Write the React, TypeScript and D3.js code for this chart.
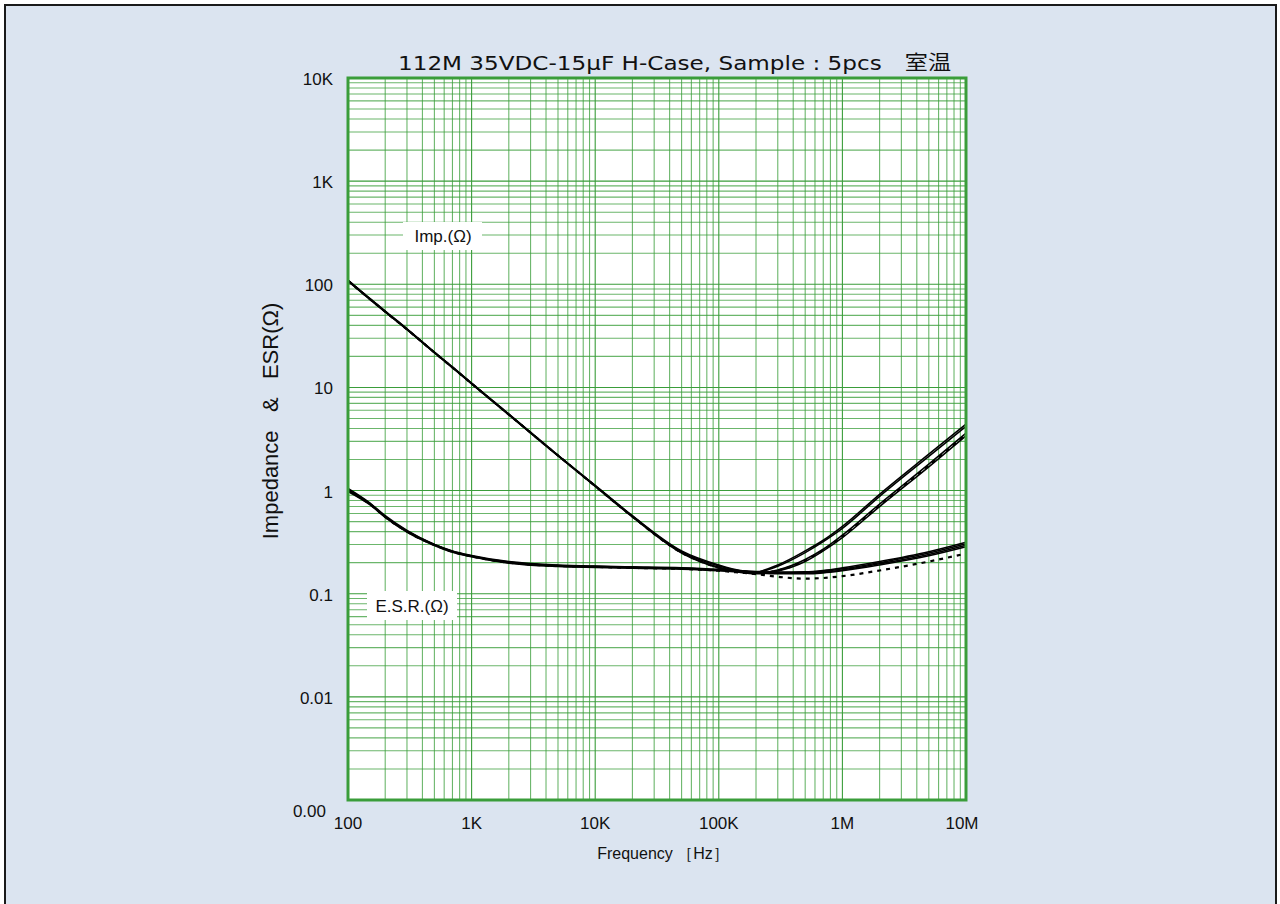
import React from "react";
import * as d3 from "d3";

// Measurement frequencies (Hz)
const freqs = [100, 150, 200, 300, 500, 700, 1e3, 2e3, 5e3, 1e4, 2e4, 5e4, 1e5, 1.5e5, 2e5, 3e5, 5e5, 7e5, 1e6, 2e6, 5e6, 1e7];

// Impedance (ohm) for each of the 5 samples
const imp1 = [110, 73, 55, 37, 22, 15.8, 11, 5.5, 2.2, 1.12, 0.57, 0.26, 0.19, 0.168, 0.163, 0.19, 0.26, 0.33, 0.45, 0.92, 2.25, 4.4];
const imp2 = [108, 72, 54, 36.5, 21.8, 15.6, 10.9, 5.45, 2.18, 1.11, 0.565, 0.255, 0.186, 0.166, 0.162, 0.185, 0.25, 0.32, 0.43, 0.88, 2.15, 4.2];
const imp3 = [109, 72.5, 54.5, 36.8, 21.9, 15.7, 10.95, 5.5, 2.2, 1.11, 0.56, 0.25, 0.18, 0.163, 0.158, 0.17, 0.215, 0.27, 0.37, 0.74, 1.8, 3.6];
const imp4 = [107, 71.5, 54, 36.3, 21.7, 15.5, 10.85, 5.42, 2.17, 1.1, 0.555, 0.248, 0.178, 0.161, 0.156, 0.166, 0.205, 0.26, 0.35, 0.7, 1.7, 3.4];
const imp5 = [108, 72, 54.2, 36.6, 21.8, 15.6, 10.9, 5.46, 2.19, 1.105, 0.558, 0.25, 0.179, 0.162, 0.157, 0.168, 0.21, 0.265, 0.36, 0.72, 1.75, 3.5];

// ESR (ohm) for each of the 5 samples
const esr1 = [1.05, 0.76, 0.57, 0.41, 0.3, 0.26, 0.235, 0.205, 0.19, 0.185, 0.182, 0.178, 0.172, 0.167, 0.164, 0.162, 0.163, 0.168, 0.178, 0.205, 0.255, 0.315];
const esr2 = [1.02, 0.75, 0.56, 0.405, 0.3, 0.258, 0.232, 0.203, 0.188, 0.184, 0.18, 0.176, 0.17, 0.165, 0.162, 0.16, 0.161, 0.165, 0.174, 0.2, 0.248, 0.305];
const esr3 = [1.0, 0.74, 0.555, 0.4, 0.296, 0.255, 0.23, 0.2, 0.186, 0.182, 0.179, 0.175, 0.169, 0.164, 0.161, 0.158, 0.158, 0.162, 0.17, 0.195, 0.24, 0.295];
const esr4 = [0.98, 0.73, 0.55, 0.395, 0.293, 0.252, 0.228, 0.198, 0.184, 0.18, 0.177, 0.173, 0.167, 0.162, 0.159, 0.156, 0.156, 0.159, 0.167, 0.19, 0.233, 0.285];
const esr5 = [1.01, 0.74, 0.555, 0.4, 0.296, 0.255, 0.23, 0.2, 0.186, 0.182, 0.178, 0.174, 0.167, 0.16, 0.155, 0.146, 0.14, 0.142, 0.148, 0.168, 0.205, 0.245];

const impSeries = [imp1, imp2, imp3, imp4, imp5];
const esrSeries = [esr1, esr2, esr3, esr4, esr5];
const dashedSample = 4;

const xTicks = [100, 1e3, 1e4, 1e5, 1e6, 1e7];
const xTickLabels = ["100", "1K", "10K", "100K", "1M", "10M"];
const yTicks = [1e4, 1e3, 100, 10, 1, 0.1, 0.01, 0.001];
const yTickLabels = ["10K", "1K", "100", "10", "1", "0.1", "0.01", "0.00"];

const title = "112M 35VDC-15μF H-Case, Sample : 5pcs　室温";

const W = 1280, H = 904;
const left = 348, right = 966, top = 78, bottom = 800;
const GREEN = "#3a9d3a";
const FONT = "'Liberation Sans', Arial, sans-serif";

export default function App() {
  const x = d3.scaleLog().domain([100, 1e7]).range([left, right]);
  const y = d3.scaleLog().domain([0.001, 1e4]).range([bottom, top]);

  // grid values for each decade (1..9 x 10^e)
  const xGrid: number[] = [];
  for (let e = 2; e < 7; e++) for (let m = 1; m < 10; m++) xGrid.push(m * Math.pow(10, e));
  const yGrid: number[] = [];
  for (let e = -3; e < 4; e++) for (let m = 1; m < 10; m++) yGrid.push(m * Math.pow(10, e));

  const line = d3.line<number>()
    .x((_, i) => x(freqs[i]))
    .y(d => y(d))
    .curve(d3.curveMonotoneX);

  const isMajor = (v: number) => Math.abs(Math.log10(v) - Math.round(Math.log10(v))) < 1e-9;

  return (
    <svg width={W} height={H} style={{ position: "absolute", left: 0, top: 0 }}>
      <rect x={5} y={5} width={1271} height={940} fill="#dbe4f0" stroke="#1a1a1a" strokeWidth={2} />
      <rect x={left} y={top} width={right - left} height={bottom - top} fill="#ffffff" />

      <g>
        {xGrid.map(v => (
          <line key={"x" + v} x1={x(v)} x2={x(v)} y1={top} y2={bottom}
            stroke={GREEN} strokeOpacity={isMajor(v) ? 1 : 0.75} strokeWidth={1.1} />
        ))}
        {yGrid.map(v => (
          <line key={"y" + v} x1={left} x2={right} y1={y(v)} y2={y(v)}
            stroke={GREEN} strokeOpacity={isMajor(v) ? 1 : 0.75} strokeWidth={1.1} />
        ))}
      </g>

      {/* series labels */}
      <rect x={403} y={222} width={79} height={28} fill="#ffffff" />
      <text x={443} y={242} fontFamily={FONT} fontSize={17} textAnchor="middle" fill="#111">Imp.(Ω)</text>
      <rect x={367} y={591} width={90} height={29} fill="#ffffff" />
      <text x={412} y={612} fontFamily={FONT} fontSize={17} textAnchor="middle" fill="#111">E.S.R.(Ω)</text>

      <g fill="none" stroke="#000">
        {impSeries.map((s, i) => (
          <path key={"i" + i} d={line(s) || ""} strokeWidth={i === dashedSample ? 2.2 : 1.6}
            strokeDasharray={i === dashedSample ? "4,5" : undefined} />
        ))}
        {esrSeries.map((s, i) => (
          <path key={"e" + i} d={line(s) || ""} strokeWidth={i === dashedSample ? 2.2 : 1.6}
            strokeDasharray={i === dashedSample ? "4,5" : undefined} />
        ))}
      </g>

      <rect x={left} y={top} width={right - left} height={bottom - top} fill="none" stroke={GREEN} strokeWidth={3} />

      <text x={398} y={70} fontFamily="'DejaVu Sans', 'Noto Sans CJK JP', sans-serif" fontSize={20} textLength={553}
        lengthAdjust="spacingAndGlyphs" fill="#111">{title}</text>

      {yTicks.map((v, i) => (
        <text key={"yt" + v} x={i === yTicks.length - 1 ? 326 : 333} y={i === yTicks.length - 1 ? y(v) + 17 : y(v) + 7}
          fontFamily={FONT} fontSize={17} textAnchor="end" fill="#111">{yTickLabels[i]}</text>
      ))}
      {xTicks.map((v, i) => (
        <text key={"xt" + v} x={i === xTicks.length - 1 ? x(v) - 4 : x(v)} y={829}
          fontFamily={FONT} fontSize={17} textAnchor="middle" fill="#111">{xTickLabels[i]}</text>
      ))}

      <text x={663} y={859} fontFamily={FONT} fontSize={16} textAnchor="middle" fill="#111">Frequency ［Hz］</text>
      <text transform={`translate(278,421) rotate(-90)`} fontFamily={FONT} fontSize={22} textAnchor="middle"
        style={{ whiteSpace: "pre" }} fill="#111">Impedance   &amp;   ESR(Ω)</text>
    </svg>
  );
}
